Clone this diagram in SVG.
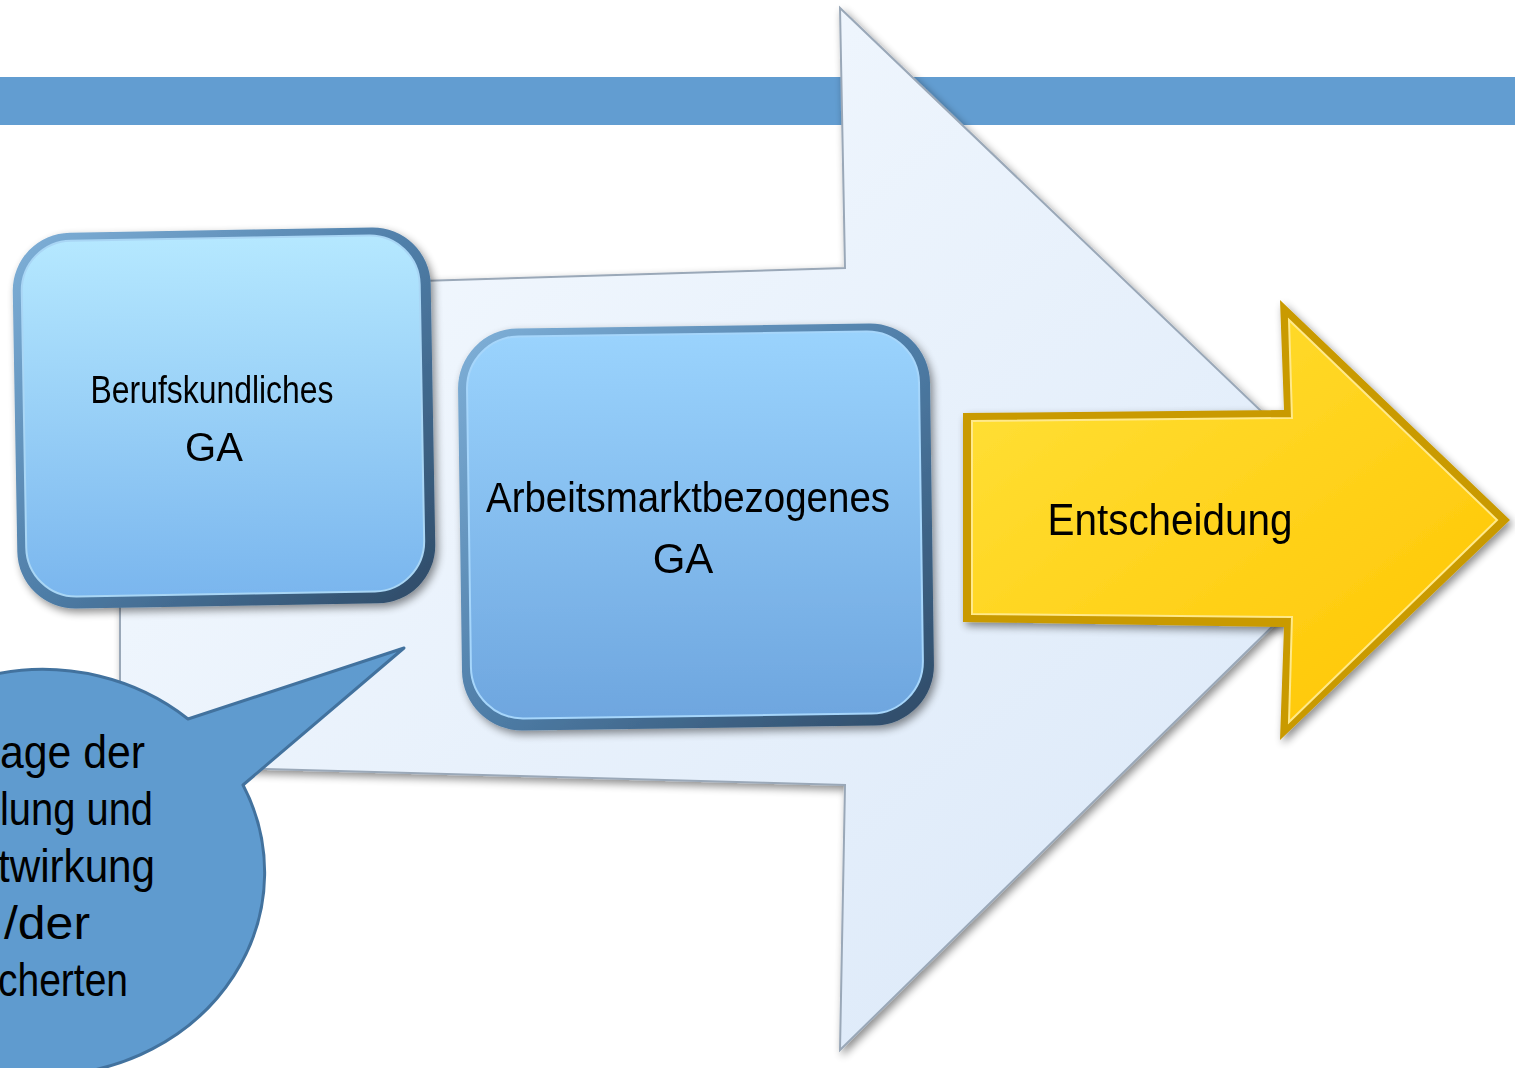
<svg xmlns="http://www.w3.org/2000/svg" width="1515" height="1068" viewBox="0 0 1515 1068">
<style>
.t{font-family:"Liberation Sans",Arial,sans-serif;fill:#000;}
</style>
<defs>
<linearGradient id="gBig" x1="0" y1="0" x2="1" y2="1">
<stop offset="0" stop-color="#f7fbff"/>
<stop offset="1" stop-color="#d9e7f8"/>
</linearGradient>
<linearGradient id="gBox1" x1="0" y1="0" x2="0" y2="1">
<stop offset="0" stop-color="#b5e8ff"/>
<stop offset="1" stop-color="#7ab6ee"/>
</linearGradient>
<linearGradient id="gBox2" x1="0" y1="0" x2="0" y2="1">
<stop offset="0" stop-color="#9ad3fd"/>
<stop offset="1" stop-color="#6ea6df"/>
</linearGradient>
<linearGradient id="gRim" x1="0" y1="0" x2="1" y2="1">
<stop offset="0" stop-color="#7fb0d8"/>
<stop offset="0.5" stop-color="#4f7ea8"/>
<stop offset="1" stop-color="#2e4a66"/>
</linearGradient>
<linearGradient id="gYel" x1="0" y1="0" x2="1" y2="1">
<stop offset="0" stop-color="#ffe23a"/>
<stop offset="1" stop-color="#ffc400"/>
</linearGradient>
<filter id="sh" x="-10%" y="-10%" width="130%" height="130%">
<feGaussianBlur in="SourceAlpha" stdDeviation="4"/>
<feOffset dx="3" dy="4" result="b"/>
<feComponentTransfer><feFuncA type="linear" slope="0.45"/></feComponentTransfer>
<feMerge><feMergeNode/><feMergeNode in="SourceGraphic"/></feMerge>
</filter>
</defs>
<rect x="0" y="0" width="1515" height="1068" fill="#ffffff"/>
<rect id="topbar" x="0" y="77" width="1515" height="48" fill="#629dd1"/>
<g id="big-arrow" filter="url(#sh)">
<polygon points="120,290 845,268 840,8 1378,523 840,1050 845,785 120,765" fill="url(#gBig)" stroke="#9aa8b8" stroke-width="2"/>
</g>
<g id="connectors"></g>
<g id="node-berufskundlich" filter="url(#sh)">
<rect x="15" y="230" width="418" height="376" rx="58" fill="url(#gRim)" transform="rotate(-1 224 418)"/>
<rect x="24" y="238" width="398" height="356" rx="50" fill="url(#gBox1)" stroke="#a9d6f5" stroke-width="2" transform="rotate(-1 224 418)"/>
<text class="t" x="212" y="403" font-size="39" text-anchor="middle" textLength="243" lengthAdjust="spacingAndGlyphs">Berufskundliches</text>
<text class="t" x="214" y="461" font-size="40" text-anchor="middle">GA</text>
</g>
<g id="node-arbeitsmarkt" filter="url(#sh)">
<rect x="460" y="326" width="472" height="402" rx="60" fill="url(#gRim)" transform="rotate(-0.8 696 527)"/>
<rect x="469" y="334" width="452" height="382" rx="52" fill="url(#gBox2)" stroke="#a6d6fb" stroke-width="2" transform="rotate(-0.8 696 527)"/>
<text class="t" x="688" y="512" font-size="42" text-anchor="middle" textLength="404" lengthAdjust="spacingAndGlyphs">Arbeitsmarktbezogenes</text>
<text class="t" x="683" y="573" font-size="42" text-anchor="middle">GA</text>
</g>
<g id="node-entscheidung" filter="url(#sh)">
<polygon points="963,413 1284,410 1280,300 1510,520 1280,740 1284,627 963,622" fill="#c99a00"/>
<polygon points="972,421 1292,418 1289,320 1497,520 1289,722 1292,617 972,614" fill="url(#gYel)" stroke="#ffe98a" stroke-width="2"/>
<text class="t" x="1170" y="535" font-size="45" text-anchor="middle" textLength="245" lengthAdjust="spacingAndGlyphs">Entscheidung</text>
</g>
<g id="node-callout">
<path d="M188,719 L404,648 L243,785 A222,203 0 1 1 188,719 Z" fill="#5f9bcf" stroke="#42729e" stroke-width="3" stroke-linejoin="round"/>
<text class="t" x="145" y="768" font-size="46" text-anchor="end" textLength="145" lengthAdjust="spacingAndGlyphs">age der</text>
<text class="t" x="153" y="825" font-size="46" text-anchor="end" textLength="153" lengthAdjust="spacingAndGlyphs">lung und</text>
<text class="t" x="155" y="882" font-size="46" text-anchor="end" textLength="157" lengthAdjust="spacingAndGlyphs">twirkung</text>
<text class="t" x="90" y="939" font-size="46" text-anchor="end" textLength="86" lengthAdjust="spacingAndGlyphs">/der</text>
<text class="t" x="128" y="996" font-size="46" text-anchor="end" textLength="130" lengthAdjust="spacingAndGlyphs">cherten</text>
</g>
</svg>
